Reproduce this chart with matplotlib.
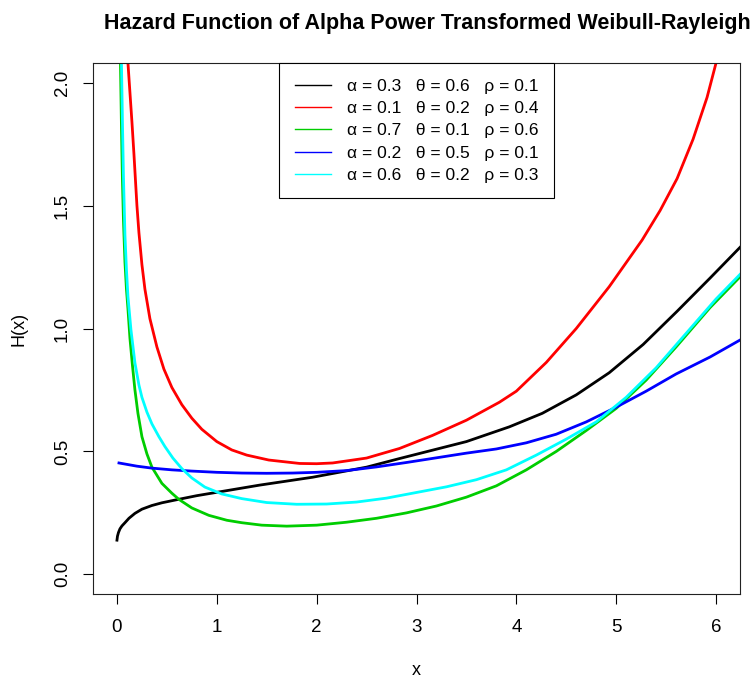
import matplotlib
matplotlib.use("Agg")
import matplotlib.pyplot as plt
from matplotlib.lines import Line2D

plt.rcParams['font.family'] = ['Liberation Sans', 'DejaVu Sans']

# values
black_x = [0.0, 0.005, 0.015, 0.03, 0.05, 0.08, 0.12, 0.18, 0.25, 0.35, 0.45, 0.58, 0.8, 1.02,
           1.43, 1.96, 2.5, 2.83, 3.16, 3.5, 3.93, 4.26, 4.6, 4.93, 5.27, 5.61, 5.94, 6.24]
black_y = [0.139, 0.155, 0.17, 0.185, 0.197, 0.21, 0.228, 0.248, 0.265, 0.28, 0.291, 0.302,
           0.32, 0.335, 0.363, 0.395, 0.436, 0.471, 0.505, 0.54, 0.60, 0.655, 0.73, 0.82,
           0.935, 1.07, 1.205, 1.33]

red_x = [0.11, 0.13, 0.15, 0.17, 0.20, 0.22, 0.25, 0.28, 0.33, 0.40, 0.47, 0.55, 0.65, 0.75,
         0.85, 1.0, 1.15, 1.3, 1.52, 1.83, 2.0, 2.16, 2.5, 2.83, 3.16, 3.5, 3.83, 4.0, 4.3,
         4.6, 4.93, 5.26, 5.44, 5.61, 5.77, 5.91, 6.0, 6.05]
red_y = [2.08, 1.96, 1.84, 1.71, 1.50, 1.39, 1.26, 1.16, 1.04, 0.925, 0.835, 0.76, 0.69, 0.635,
         0.59, 0.54, 0.506, 0.485, 0.465, 0.451, 0.45, 0.453, 0.473, 0.512, 0.565, 0.627, 0.70,
         0.745, 0.862, 1.0, 1.17, 1.36, 1.48, 1.61, 1.77, 1.94, 2.08, 2.16]

green_x = [0.035, 0.045, 0.055, 0.065, 0.08, 0.095, 0.11, 0.13, 0.155, 0.18, 0.21, 0.25, 0.30,
           0.35, 0.45, 0.55, 0.62, 0.75, 0.92, 1.1, 1.25, 1.45, 1.7, 2.0, 2.3, 2.6, 2.9, 3.2,
           3.5, 3.8, 4.1, 4.4, 4.7, 5.0, 5.3, 5.6, 5.94, 6.24]
green_y = [2.08, 1.82, 1.6, 1.44, 1.27, 1.16, 1.08, 0.96, 0.85, 0.75, 0.655, 0.56, 0.49, 0.436,
           0.37, 0.33, 0.305, 0.27, 0.24, 0.22, 0.21, 0.2, 0.196, 0.2, 0.212, 0.228, 0.25,
           0.278, 0.314, 0.36, 0.425, 0.5, 0.585, 0.675, 0.79, 0.925, 1.085, 1.21]

blue_x = [0.02, 0.2, 0.35, 0.55, 0.75, 1.0, 1.25, 1.5, 1.76, 2.0, 2.3, 2.6, 2.9, 3.2, 3.5, 3.8,
          4.1, 4.4, 4.7, 5.0, 5.3, 5.6, 5.94, 6.24]
blue_y = [0.453, 0.44, 0.432, 0.425, 0.42, 0.415, 0.412, 0.411, 0.412, 0.415, 0.422, 0.437,
          0.455, 0.474, 0.493, 0.51, 0.535, 0.57, 0.62, 0.68, 0.745, 0.815, 0.884, 0.953]

cyan_x = [0.045, 0.055, 0.065, 0.08, 0.095, 0.11, 0.14, 0.18, 0.22, 0.25, 0.30, 0.35, 0.42,
          0.48, 0.56, 0.65, 0.75, 0.88, 1.05, 1.25, 1.5, 1.8, 2.1, 2.4, 2.7, 3.0, 3.3, 3.6,
          3.9, 4.2, 4.5, 4.8, 5.1, 5.4, 5.7, 6.0, 6.24]
cyan_y = [2.08, 1.84, 1.62, 1.38, 1.24, 1.13, 0.995, 0.86, 0.77, 0.72, 0.66, 0.612, 0.56, 0.52,
          0.473, 0.43, 0.392, 0.355, 0.327, 0.308, 0.292, 0.285, 0.286, 0.294, 0.31, 0.333,
          0.356, 0.385, 0.425, 0.485, 0.55, 0.62, 0.72, 0.84, 0.98, 1.12, 1.22]

labels = ["\u03b1 = 0.3   \u03b8 = 0.6   \u03c1 = 0.1",
          "\u03b1 = 0.1   \u03b8 = 0.2   \u03c1 = 0.4",
          "\u03b1 = 0.7   \u03b8 = 0.1   \u03c1 = 0.6",
          "\u03b1 = 0.2   \u03b8 = 0.5   \u03c1 = 0.1",
          "\u03b1 = 0.6   \u03b8 = 0.2   \u03c1 = 0.3"]
colors = ["black", "#FF0000", "#00CD00", "#0000FF", "#00FFFF"]

x_ticks = [0, 1, 2, 3, 4, 5, 6]
y_ticks = [0.0, 0.5, 1.0, 1.5, 2.0]

fig = plt.figure(figsize=(7.56, 6.82), dpi=100)
ax = fig.add_axes([93 / 756, 1 - 594 / 682, 647 / 756, 531 / 682])

series = [(black_x, black_y), (red_x, red_y), (green_x, green_y), (blue_x, blue_y), (cyan_x, cyan_y)]
for (xs, ys), c in zip(series, colors):
    ax.plot(xs, ys, color=c, lw=2.0, solid_joinstyle='round')

ax.set_xlim(-0.24, 6.24)
ax.set_ylim(-0.08, 2.08)

ax.set_xticks(x_ticks)
ax.set_xticklabels([str(t) for t in x_ticks])
ax.set_yticks(y_ticks)
ax.set_yticklabels([f"{t:.1f}" for t in y_ticks], rotation=90, va='center')
ax.tick_params(direction='out', length=7, width=0.8, labelsize=13.5, pad=9)
ax.tick_params(axis='x', pad=11)

for s in ax.spines.values():
    s.set_linewidth(0.8)
    s.set_color('#222222')

ax.set_xlabel("x", fontsize=13, labelpad=19)
ax.set_ylabel("H(x)", fontsize=13, labelpad=19)

# title sits a little right of the plot centre in the reference
fig.text(427 / 756, 1 - 23 / 682, "Hazard Function of Alpha Power Transformed Weibull-Rayleigh",
         fontsize=15.5, fontweight='bold', ha='center', va='center')

# legend uses thin lines like R's legend()
handles = [Line2D([], [], color=c, lw=1.0) for c in colors]
leg = ax.legend(handles, labels, loc='upper center', bbox_to_anchor=(0.5, 1.0),
                borderaxespad=0, fancybox=False, framealpha=1, edgecolor='black',
                fontsize=12.5, handlelength=2.07, handletextpad=0.92, labelspacing=0.41,
                borderpad=0.9)
leg.get_frame().set_linewidth(0.8)

plt.savefig("out.png", dpi=100)
